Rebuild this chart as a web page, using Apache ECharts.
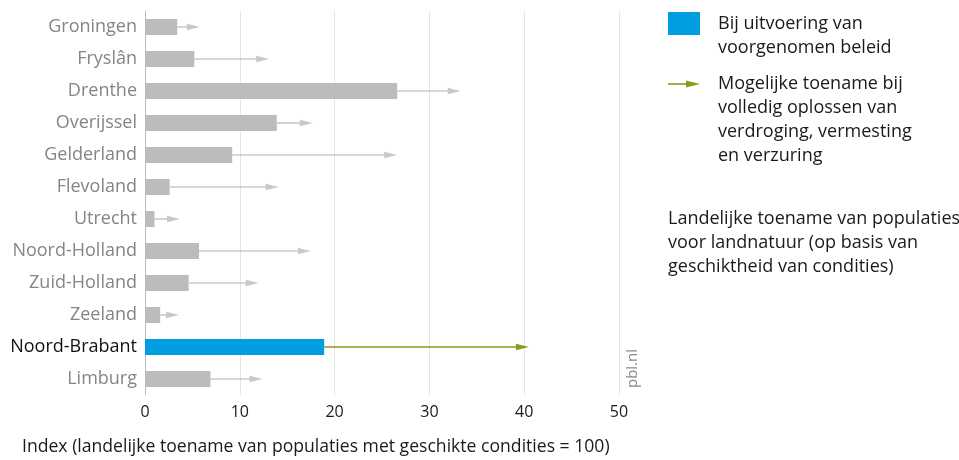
<!DOCTYPE html>
<html>
<head>
<meta charset="utf-8">
<script src="https://cdn.jsdelivr.net/npm/echarts@6/dist/echarts.min.js"></script>
<style>
  html, body { margin: 0; padding: 0; background: #fff; }
  #chart { width: 959px; height: 460px; }
</style>
</head>
<body>
<div id="chart"></div>
<script>
// Provinces, top to bottom
const provinces = ['Groningen', 'Fryslân', 'Drenthe', 'Overijssel', 'Gelderland', 'Flevoland',
  'Utrecht', 'Noord-Holland', 'Zuid-Holland', 'Zeeland', 'Noord-Brabant', 'Limburg'];
// Index with planned policy (bar)
const beleid = [3.4, 5.2, 26.6, 13.9, 9.2, 2.6, 1.0, 5.7, 4.6, 1.6, 18.9, 6.9];
// Index when drought, eutrophication and acidification are fully solved (arrow tip)
const oplossen = [5.8, 13.1, 33.3, 17.7, 26.6, 14.1, 3.7, 17.5, 12.0, 3.6, 40.5, 12.4];
const xTicks = [0, 10, 20, 30, 40, 50];
const highlight = 'Noord-Brabant';

const FONT = '"Open Sans", "Noto Sans", sans-serif';
const GREY_BAR = '#bcbcbc';
const BLUE = '#009ee0';
const GREY_ARROW = '#c9c9c9';
const GREEN = '#8b9a1f';

const chart = echarts.init(document.getElementById('chart'), null, { renderer: 'canvas' });

const barData = beleid.map((v, i) => ({
  value: v,
  itemStyle: { color: provinces[i] === highlight ? BLUE : GREY_BAR }
}));
const arrowData = provinces.map((p, i) => [beleid[i], oplossen[i], i]);

function renderArrow(params, api) {
  const idx = api.value(2);
  const start = api.coord([api.value(0), idx]);
  const end = api.coord([api.value(1), idx]);
  const color = provinces[idx] === highlight ? GREEN : GREY_ARROW;
  const headLen = 13, headHalf = 3.2;
  return {
    type: 'group',
    children: [
      {
        type: 'line',
        shape: { x1: start[0], y1: start[1], x2: end[0] - headLen + 1, y2: end[1] },
        style: { stroke: color, lineWidth: 1.6 }
      },
      {
        type: 'polygon',
        shape: { points: [[end[0] - headLen, end[1] - headHalf], [end[0], end[1]], [end[0] - headLen, end[1] + headHalf]] },
        style: { fill: color }
      }
    ]
  };
}

const legendText = { fontFamily: FONT, fontSize: 18, fill: '#1a1a1a', lineHeight: 24 };

chart.setOption({
  animation: false,
  grid: { left: 145, right: 340, top: 11, bottom: 65, containLabel: false },
  xAxis: {
    type: 'value',
    min: xTicks[0],
    max: xTicks[xTicks.length - 1],
    interval: 10,
    axisLine: { show: false },
    axisTick: { show: false },
    splitLine: { show: true, lineStyle: { color: '#e4e4e4', width: 1 } },
    axisLabel: { fontFamily: FONT, fontSize: 16, color: '#1a1a1a', margin: 9 }
  },
  yAxis: {
    type: 'category',
    data: provinces,
    inverse: true,
    axisTick: { show: false },
    axisLine: { show: true, lineStyle: { color: '#bdbdbd', width: 1 } },
    axisLabel: {
      fontFamily: FONT,
      fontSize: 18,
      margin: 8,
      color: (v) => (v === highlight ? '#111' : '#858585')
    }
  },
  series: [
    {
      type: 'bar',
      data: barData,
      barWidth: 16,
      z: 2
    },
    {
      type: 'custom',
      renderItem: renderArrow,
      data: arrowData,
      encode: { x: [0, 1], y: 2 },
      z: 3
    }
  ],
  graphic: [
    // x-axis title
    {
      type: 'text', left: 22, top: 438,
      style: { text: 'Index (landelijke toename van populaties met geschikte condities = 100)', fontFamily: FONT, fontSize: 17.6, fill: '#1a1a1a' }
    },
    // source mark
    {
      type: 'text', x: 625, y: 388, rotation: Math.PI / 2,
      style: { text: 'pbl.nl', fontFamily: FONT, fontSize: 15, fill: '#8a8a8a' }
    },
    // legend: bar
    { type: 'rect', shape: { x: 668, y: 12, width: 32, height: 23 }, style: { fill: BLUE } },
    { type: 'text', x: 718, y: 12, style: Object.assign({ text: 'Bij uitvoering van\nvoorgenomen beleid' }, legendText) },
    // legend: arrow
    { type: 'line', shape: { x1: 668, y1: 84, x2: 688, y2: 84 }, style: { stroke: GREEN, lineWidth: 1.6 } },
    { type: 'polygon', shape: { points: [[686, 80.5], [700, 84], [686, 87.5]] }, style: { fill: GREEN } },
    { type: 'text', x: 718, y: 72, style: Object.assign({ text: 'Mogelijke toename bij\nvolledig oplossen van\nverdroging, vermesting\nen verzuring' }, legendText) },
    // note
    { type: 'text', x: 668, y: 207, style: Object.assign({ text: 'Landelijke toename van populaties\nvoor landnatuur (op basis van\ngeschiktheid van condities)' }, legendText) }
  ]
});
</script>
</body>
</html>
